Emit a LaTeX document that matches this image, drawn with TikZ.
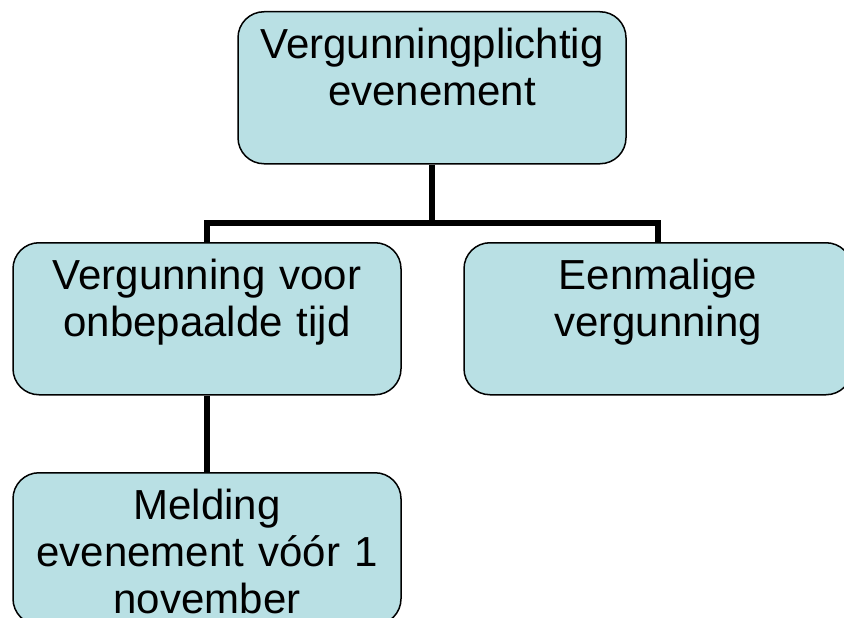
\documentclass[tikz,border=0pt]{standalone}
\usepackage{fontspec}
\setmainfont{Liberation Sans}
\definecolor{boxfill}{RGB}{185,224,228}
\tikzset{
  orgbox/.style={draw=black, fill=boxfill, line width=1.5pt, rounded corners=26pt,
    inner sep=0pt, text width=388pt, align=center, anchor=north,
    text height=47pt, text depth=105pt, font=\fontsize{42}{47}\selectfont},
  link/.style={line width=5.5pt}
}
\begin{document}
\begin{tikzpicture}[x=1pt,y=-1pt]
  \useasboundingbox (0,0) rectangle (844,618);
  \node[orgbox] (top) at (432,11) {Vergunningplichtig\\evenement};
  \node[orgbox] (left) at (207,242) {Vergunning voor\\onbepaalde tijd};
  \node[orgbox] (right) at (658,242) {Eenmalige\\vergunning};
  \node[orgbox] (sub) at (207,472) {Melding\\evenement vóór 1\\november};
  \draw[link] (left.north) -- ++(0,-19) coordinate (bus) -| (right.north);
  \draw[link] (top.south) -- (top.south |- bus);
  \draw[link] (left.south) -- (sub.north);
\end{tikzpicture}
\end{document}
